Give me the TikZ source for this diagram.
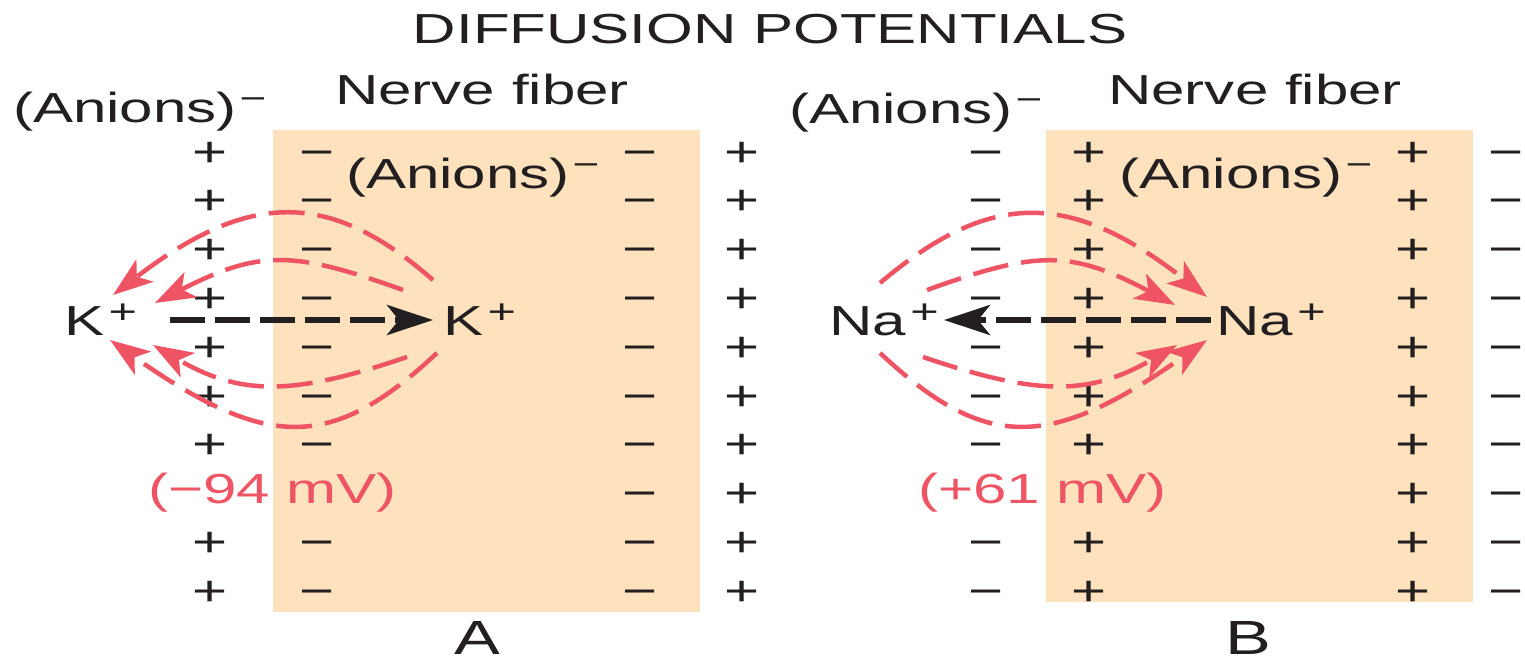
\documentclass[tikz,border=0pt]{standalone}
\usepackage{fontspec}
\setmainfont{Liberation Sans}
\usetikzlibrary{arrows.meta}
\definecolor{peach}{HTML}{FDE2BD}
\definecolor{myred}{HTML}{EE5463}
\definecolor{ink}{HTML}{231F20}
\newcommand\sx[1]{\scalebox{1.43}[1]{#1}}
\newcommand\supminus{\raisebox{13pt}{\fontsize{32}{32}\selectfont\kern2pt −}}
\newcommand\supplus{\raisebox{11.5pt}{\fontsize{34}{34}\selectfont\kern3pt +}}
\begin{document}
\begin{tikzpicture}[x=1pt,y=-1pt,
  txt/.style={inner sep=0pt, text=ink, font=\fontsize{42}{42}\selectfont, anchor=base west},
  sign/.style={inner sep=0pt, text=ink, font=\fontsize{42}{42}\selectfont, anchor=base},
  mv/.style={inner sep=0pt, text=myred, font=\fontsize{42}{42}\selectfont, anchor=base west},
  fiber/.style={fill=peach, draw=none},
  redarc/.style={draw=myred, line width=4.5pt, dash pattern=on 36pt off 13pt,
    -{Stealth[length=40pt,width=28pt,inset=10pt]}},
  blackarr/.style={draw=ink, line width=6pt, dash pattern=on 35pt off 10pt,
    -{Stealth[length=46pt,width=30pt,inset=12pt]}}]
\useasboundingbox (0,0) rectangle (1525,667);
% fibers
\fill[fiber] (273,130) rectangle (700,612);
\fill[fiber] (1046,130) rectangle (1473,602);
% title
\node[txt, anchor=base] (title) at (770,43) {\sx{DIFFUSION POTENTIALS}};
% charges
\foreach \i in {0,...,9}{
  \pgfmathsetmacro\yy{152+48.8*\i+14}
  \ifnum\i=7\relax\else
    \node[sign] (ap\i) at (210,\yy) {\sx{+}};
    \node[sign] (am\i) at (317,\yy) {\sx{−}};
    \node[sign] (bm\i) at (986,\yy) {\sx{−}};
    \node[sign] (bp\i) at (1089,\yy) {\sx{+}};
  \fi
  \node[sign] (ar\i) at (640,\yy) {\sx{−}};
  \node[sign] (as\i) at (742,\yy) {\sx{+}};
  \node[sign] (br\i) at (1413,\yy) {\sx{+}};
  \node[sign] (bs\i) at (1506,\yy) {\sx{−}};
}
% labels panel A
\node[txt] (anA) at (13,122) {\sx{(Anions)\supminus}};
\node[txt] (nfA) at (335,104) {\sx{Nerve fiber}};
\node[txt] (aiA) at (346,188) {\sx{(Anions)\supminus}};
\node[txt] (kL) at (64,335) {\sx{K\supplus}};
\node[txt] (kR) at (443,335) {\sx{K\supplus}};
\node[mv] (mvA) at (148,503) {\sx{(−94 mV)}};
\node[txt, font=\fontsize{48}{48}\selectfont] (labA) at (454,654) {\sx{A}};
% labels panel B
\node[txt] (anB) at (789,123) {\sx{(Anions)\supminus}};
\node[txt] (nfB) at (1108,104) {\sx{Nerve fiber}};
\node[txt] (aiB) at (1119,188) {\sx{(Anions)\supminus}};
\node[txt] (naL) at (829,335) {\sx{Na\supplus}};
\node[txt] (naR) at (1216,335) {\sx{Na\supplus}};
\node[mv] (mvB) at (918,503) {\sx{(+61 mV)}};
\node[txt, font=\fontsize{48}{48}\selectfont] (labB) at (1225,654) {\sx{B}};
% connector end points
\coordinate (kAs) at (170,320);  \coordinate (kAe) at (433,320);
\coordinate (nBs) at (1211,320); \coordinate (nBe) at (944,320);
\coordinate (a1s) at (433,280); \coordinate (a1e) at (113,295);
\coordinate (a2s) at (403,290); \coordinate (a2e) at (155,303);
\coordinate (a3s) at (437,353); \coordinate (a3e) at (110,340);
\coordinate (a4s) at (407,357); \coordinate (a4e) at (153,345);
\coordinate (b1s) at (880,283); \coordinate (b1e) at (1207,297);
\coordinate (b2s) at (927,290); \coordinate (b2e) at (1175,305);
\coordinate (b3s) at (880,353); \coordinate (b3e) at (1207,340);
\coordinate (b4s) at (923,357); \coordinate (b4e) at (1177,345);
% panel A arrows
\draw[redarc] (a1s) .. controls (330,190) and (250,190) .. (a1e);
\draw[redarc] (a2s) .. controls (292,250) and (259,250) .. (a2e);
\draw[redarc] (a3s) .. controls (332,451) and (268,451) .. (a3e);
\draw[redarc] (a4s) .. controls (292,396) and (241,396) .. (a4e);
\draw[blackarr] (kAs) -- (kAe);
% panel B arrows
\draw[redarc] (b1s) .. controls (990,190) and (1070,190) .. (b1e);
\draw[redarc] (b2s) .. controls (1038,250) and (1071,250) .. (b2e);
\draw[redarc] (b3s) .. controls (985,451) and (1049,451) .. (b3e);
\draw[redarc] (b4s) .. controls (1038,396) and (1089,396) .. (b4e);
\draw[blackarr] (nBs) -- (nBe);
\end{tikzpicture}
\end{document}
